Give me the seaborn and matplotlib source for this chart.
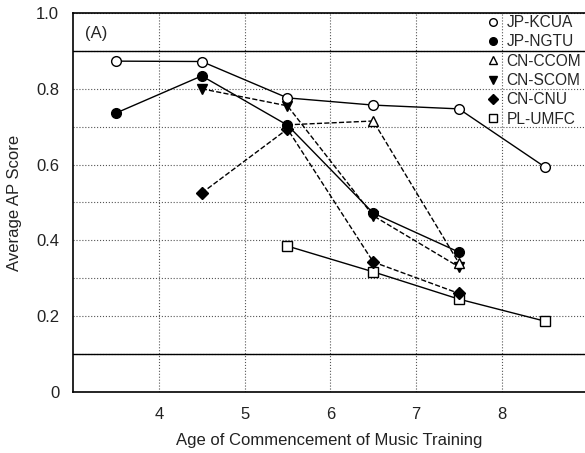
import matplotlib
matplotlib.use("Agg")
import matplotlib.pyplot as plt
from matplotlib.lines import Line2D
import pandas as pd
import seaborn as sns

# values
groups = ["JP-KCUA", "JP-NGTU", "CN-CCOM", "CN-SCOM", "CN-CNU", "PL-UMFC"]
ages = {
    "JP-KCUA": [3.5, 4.5, 5.5, 6.5, 7.5, 8.5],
    "JP-NGTU": [3.5, 4.5, 5.5, 6.5, 7.5],
    "CN-CCOM": [5.5, 6.5, 7.5],
    "CN-SCOM": [4.5, 5.5, 6.5, 7.5],
    "CN-CNU": [4.5, 5.5, 6.5, 7.5],
    "PL-UMFC": [5.5, 6.5, 7.5, 8.5],
}
scores = {
    "JP-KCUA": [0.873, 0.872, 0.776, 0.757, 0.747, 0.594],
    "JP-NGTU": [0.736, 0.834, 0.704, 0.472, 0.369],
    "CN-CCOM": [0.705, 0.715, 0.340],
    "CN-SCOM": [0.800, 0.755, 0.465, 0.330],
    "CN-CNU": [0.525, 0.694, 0.343, 0.260],
    "PL-UMFC": [0.385, 0.317, 0.245, 0.187],
}
y_ticks = [0, 0.2, 0.4, 0.6, 0.8, 1.0]
y_tick_labels = ["0", "0.2", "0.4", "0.6", "0.8", "1.0"]
x_ticks = [4, 5, 6, 7, 8]

styles = {
    "JP-KCUA": dict(marker="o", mfc="white", ls="-"),
    "JP-NGTU": dict(marker="o", mfc="black", ls="-"),
    "CN-CCOM": dict(marker="^", mfc="white", ls="--"),
    "CN-SCOM": dict(marker="v", mfc="black", ls="--"),
    "CN-CNU": dict(marker="D", mfc="black", ls="--"),
    "PL-UMFC": dict(marker="s", mfc="white", ls="-"),
}

sns.set_style("white")
plt.rcParams["font.family"] = ["Liberation Sans", "DejaVu Sans"]

fig = plt.figure(figsize=(5.85, 4.53), dpi=100)
ax = fig.add_axes([0.125, 0.1347, 0.875, 0.8366])

# draw bottom-up so open markers sit over the others like in the original
order = ["PL-UMFC", "CN-CNU", "CN-SCOM", "CN-CCOM", "JP-NGTU", "JP-KCUA"]
for g in order:
    df = pd.DataFrame({"age": ages[g], "score": scores[g]})
    st = styles[g]
    ms = 7 if st["marker"] != "D" else 6
    sns.lineplot(data=df, x="age", y="score", ax=ax, color="black",
                 linewidth=1.0, linestyle=st["ls"], marker=st["marker"],
                 markersize=ms, markerfacecolor=st["mfc"],
                 markeredgecolor="black", markeredgewidth=1.0,
                 dashes=False if st["ls"] == "-" else (2, 1.5), zorder=3)

ax.set_xlim(3, 8.97)
ax.set_ylim(0, 1.0)
ax.set_xticks(x_ticks)
ax.set_yticks(y_ticks)
ax.set_yticklabels(y_tick_labels)
ax.yaxis.set_minor_locator(plt.MultipleLocator(0.1))
ax.tick_params(axis="both", which="both", length=0, labelsize=12,
               colors="#222222")
ax.tick_params(axis="y", pad=10)
ax.tick_params(axis="x", pad=11)

ax.grid(True, which="both", linestyle=":", color="#555555", linewidth=0.8)
ax.axhline(0.9, color="black", linewidth=1.0, zorder=2)
ax.axhline(0.1, color="black", linewidth=1.0, zorder=2)

for side in ["left", "top", "bottom"]:
    ax.spines[side].set_color("black")
    ax.spines[side].set_linewidth(1.2)
ax.spines["right"].set_visible(False)

ax.set_xlabel("Age of Commencement of Music Training", fontsize=12,
              labelpad=8, color="#222222")
ax.set_ylabel("Average AP Score", fontsize=12, labelpad=10, color="#222222")
ax.text(0.023, 0.965, "(A)", transform=ax.transAxes, fontsize=12,
        va="top", ha="left")

handles = [Line2D([], [], color="black", linestyle="none",
                  marker=styles[g]["marker"],
                  markerfacecolor=styles[g]["mfc"], markeredgecolor="black",
                  markersize=5.5 if styles[g]["marker"] != "D" else 5)
           for g in groups]
ax.legend(handles, groups, loc="upper right", frameon=False, fontsize=11.2,
          handlelength=0.8, handletextpad=0.5, labelspacing=0.28,
          borderaxespad=0.0, bbox_to_anchor=(1.005, 1.011))

fig.savefig("out.png", dpi=100)
